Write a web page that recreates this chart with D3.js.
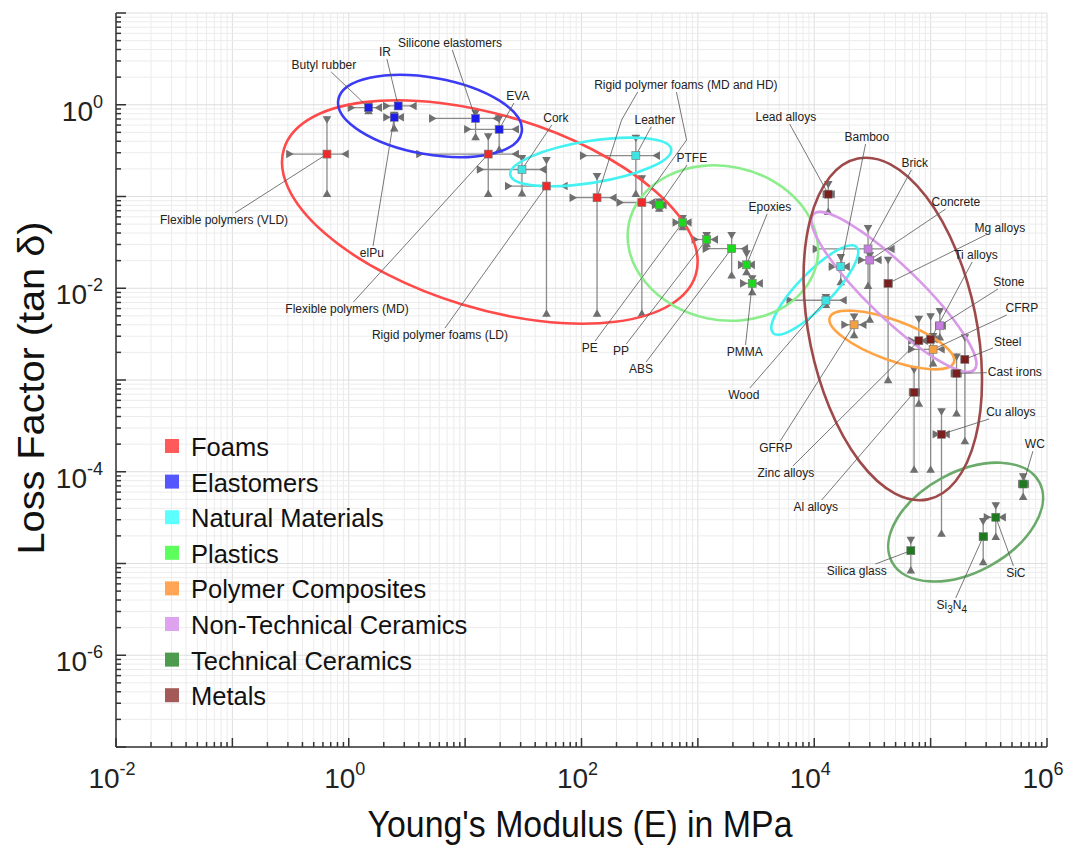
<!DOCTYPE html>
<html>
<head>
<meta charset="utf-8">
<script src="https://cdn.jsdelivr.net/npm/d3@7"></script>
<style>
  body { margin: 0; background: #fff; }
  text { font-family: "Liberation Sans", Arial, sans-serif; }
</style>
</head>
<body>
<svg id="chart" width="1080" height="852"></svg>
<script>
'use strict'

// material groups (legend order)
const groups = ['Foams', 'Elastomers', 'Natural Materials', 'Plastics', 'Polymer Composites',
  'Non-Technical Ceramics', 'Technical Ceramics', 'Metals']

// one entry per material: group index, Young's modulus (MPa) and loss factor, with ranges
const materialNames = ['Flexible polymers (VLD)', 'Flexible polymers (MD)', 'Rigid polymer foams (LD)',
  'Rigid polymer foams (MD)', 'Rigid polymer foams (HD)',
  'Butyl rubber', 'IR', 'elPu', 'Silicone elastomers', 'EVA',
  'Cork', 'Leather', 'Bamboo', 'Wood',
  'PTFE', 'PE', 'PP', 'ABS', 'Epoxies', 'PMMA',
  'GFRP', 'CFRP',
  'Brick', 'Concrete', 'Stone',
  'WC', 'SiC', 'Si3N4', 'Silica glass',
  'Lead alloys', 'Mg alloys', 'Zinc alloys', 'Ti alloys', 'Al alloys', 'Steel', 'Cast irons', 'Cu alloys']
const materialGroup = [0, 0, 0, 0, 0, 1, 1, 1, 1, 1, 2, 2, 2, 2, 3, 3, 3, 3, 3, 3, 4, 4, 5, 5, 5,
  6, 6, 6, 6, 7, 7, 7, 7, 7, 7, 7, 7]
const modulus = [0.65, 15.8, 50, 136, 330, 1.48, 2.66, 2.46, 12.3, 19.6, 30.8, 293, 16900, 12600,
  466, 739, 1190, 1950, 2620, 2930, 22000, 105000, 29000, 30000, 120000,
  624000, 363000, 283000, 67600, 13200, 43100, 79200, 100000, 72100, 197000, 167000, 124000]
const modulusLow = [0.29, 3.8, 22, 79, 200, 0.98, 1.97, 1.98, 4.9, 9.8, 12.6, 97, 13300, 5780,
  403, 606, 883, 1100, 2210, 2300, 17100, 64000, 9700, 23700, 109000,
  565000, 286000, 260000, 62500, 11800, 39600, 64100, 94600, 65000, 181000, 149000, 104000]
const modulusHigh = [1.0, 29, 76, 200, 430, 1.93, 3.83, 2.98, 19.9, 29, 50, 472, 20200, 19000,
  538, 883, 1490, 2700, 3090, 3620, 28100, 132000, 49000, 37900, 135000,
  698000, 443000, 310000, 73100, 15000, 47100, 94600, 115000, 80800, 213000, 185000, 146000]
const lossFactor = [0.29, 0.29, 0.13, 0.097, 0.086, 0.93, 0.97, 0.73, 0.71, 0.54, 0.197, 0.279, 0.0172, 0.0074,
  0.081, 0.052, 0.034, 0.027, 0.018, 0.0113, 0.004, 0.00216, 0.0268, 0.0203, 0.0039,
  0.0000735, 0.0000319, 0.0000196, 0.0000138, 0.106, 0.0113, 0.00268, 0.00278, 0.000734, 0.00168, 0.00118, 0.000256]
const lossLow = [0.099, 0.099, 0.0049, 0.0049, 0.0049, 0.79, 0.88, 0.51, 0.41, 0.30, 0.10, 0.099, 0.0108, 0.0061,
  0.068, 0.043, 0.028, 0.0128, 0.0139, 0.0084, 0.00285, 0.0014, 0.0098, 0.0042, 0.0027,
  0.0000492, 0.000018, 0.0000096, 0.0000078, 0.063, 0.00092, 0.00051, 0.0000977, 0.0000977, 0.0002, 0.0004, 0.0000196]
const lossHigh = [0.75, 0.49, 0.27, 0.18, 0.17, 1.07, 1.08, 0.84, 0.88, 0.77, 0.283, 0.47, 0.0236, 0.00865,
  0.095, 0.063, 0.041, 0.041, 0.026, 0.0139, 0.0053, 0.00325, 0.049, 0.0248, 0.0061,
  0.0000962, 0.0000465, 0.0000313, 0.0000196, 0.148, 0.0221, 0.005, 0.00533, 0.0014, 0.00315, 0.00195, 0.000492]

// group envelopes: centre (data units), semi-axes in decades, rotation on screen (deg)
const ellipseGroup = [0, 1, 2, 2, 3, 4, 5, 6, 7]
const ellipseE = [16.3, 4.99, 120, 10100, 1640, 46400, 48300, 200000, 47300]
const ellipseLoss = [0.0678, 0.754, 0.238, 0.00957, 0.0311, 0.00273, 0.0091, 0.0000283, 0.0036]
const ellipseMajor = [1.85, 0.80, 0.70, 0.515, 0.825, 0.567, 0.962, 0.72, 1.495]
const ellipseMinor = [0.83, 0.33, 0.18, 0.146, 0.66, 0.172, 0.223, 0.43, 0.72]
const ellipseAngle = [17, 10, -9, -46, 12, 20, 44, -28.5, 78.4]

// annotations: text, where it sits (data units), which materials it points at
const labelText = ['Flexible polymers (VLD)', 'Flexible polymers (MD)', 'Rigid polymer foams (LD)',
  'Rigid polymer foams (MD and HD)', 'Butyl rubber', 'IR', 'elPu', 'Silicone elastomers', 'EVA',
  'Cork', 'Leather', 'Bamboo', 'Wood', 'PTFE', 'PE', 'PP', 'ABS', 'Epoxies', 'PMMA', 'GFRP', 'CFRP',
  'Brick', 'Concrete', 'Stone', 'WC', 'SiC', 'Si3N4', 'Silica glass', 'Lead alloys', 'Mg alloys',
  'Zinc alloys', 'Ti alloys', 'Al alloys', 'Steel', 'Cast irons', 'Cu alloys']
const labelE = [0.0848, 0.966, 6.08, 789, 0.612, 2.05, 1.58, 7.4, 28.4, 60.3, 427, 28300, 2480, 888,
  118, 218, 324, 4160, 2530, 4680, 608000, 73100, 165000, 470000, 786000, 540000, 152000, 23200,
  5700, 393000, 5700, 245000, 10300, 460000, 529000, 489000]
const labelLoss = [0.0555, 0.00594, 0.00309, 1.64, 2.71, 3.76, 0.0242, 4.71, 1.245, 0.717, 0.682, 0.445,
  0.000687, 0.263, 0.00223, 0.00207, 0.00132, 0.0769, 0.00202, 0.000182, 0.0061, 0.232, 0.0871, 0.0117,
  0.0002, 0.00000787, 0.00000353, 0.00000828, 0.735, 0.0454, 0.0000968, 0.023, 0.0000413, 0.0026,
  0.00122, 0.000448]
const labelTargets = [[0], [1], [2], [3, 4], [5], [6], [7], [8], [9], [10], [11], [12], [13], [14],
  [15], [16], [17], [18], [19], [20], [21], [22], [23], [24], [25], [26], [27], [28], [29], [30],
  [31], [32], [33], [34], [35], [36]]
// bend points of the two leaders of 'Rigid polymer foams (MD and HD)'
const bendE = [221, 800]
const bendLoss = [0.682, 0.413]

const markerColor = ['#f02a2a', '#1c1cee', '#3ee4e4', '#1ed81e', '#f5a040', '#c57ee0', '#1f7a1f', '#7a1e1e']
const ellipseColor = ['#ff4a4a', '#3b3bf5', '#44f2f2', '#8ced8c', '#ffa445', '#d89ae8', '#6aaa6a', '#9e4a4a']
const legendColor = ['#ff5a5a', '#5656ff', '#5cffff', '#5cff5c', '#ffa555', '#dea3ee', '#4e9a4e', '#a55a5a']

const margin = { top: 13, right: 33, bottom: 105, left: 116 }
const width = 1080
const height = 852

const svg = d3.select('#chart')
const x = d3.scaleLog().domain([1e-2, 1e6]).range([margin.left, width - margin.right])
const y = d3.scaleLog().domain([1e-7, 1e1]).range([height - margin.bottom, margin.top])
const decadePx = x(10) - x(1)
const isMajor = v => Math.abs(Math.log10(v) - Math.round(Math.log10(v))) < 1e-9

// grid
const grid = svg.append('g')
grid.selectAll('.gx').data(x.ticks()).join('line')
  .attr('x1', d => x(d)).attr('x2', d => x(d))
  .attr('y1', y.range()[0]).attr('y2', y.range()[1])
  .attr('stroke', d => isMajor(d) ? '#dedede' : '#ececec').attr('stroke-width', 1)
grid.selectAll('.gy').data(y.ticks()).join('line')
  .attr('y1', d => y(d)).attr('y2', d => y(d))
  .attr('x1', x.range()[0]).attr('x2', x.range()[1])
  .attr('stroke', d => isMajor(d) ? '#dedede' : '#ececec').attr('stroke-width', 1)

// axes
const axes = svg.append('g').attr('stroke', '#333').attr('stroke-width', 1.5)
axes.append('line').attr('x1', x.range()[0]).attr('x2', x.range()[1])
  .attr('y1', y.range()[0]).attr('y2', y.range()[0])
axes.append('line').attr('x1', x.range()[0]).attr('x2', x.range()[0])
  .attr('y1', y.range()[0]).attr('y2', y.range()[1])
axes.selectAll('.tx').data(x.ticks()).join('line')
  .attr('x1', d => x(d)).attr('x2', d => x(d))
  .attr('y1', y.range()[0]).attr('y2', d => y.range()[0] - (isMajor(d) ? 9 : 5))
axes.selectAll('.ty').data(y.ticks()).join('line')
  .attr('y1', d => y(d)).attr('y2', d => y(d))
  .attr('x1', x.range()[0]).attr('x2', d => x.range()[0] + (isMajor(d) ? 10 : 5))

const xLabels = svg.append('g').selectAll('text').data([-2, 0, 2, 4, 6]).join('text')
  .attr('x', d => x(Math.pow(10, d)) - 4).attr('y', y.range()[0] + 41)
  .attr('text-anchor', 'middle').attr('fill', '#222')
xLabels.append('tspan').attr('font-size', 28).text('10')
xLabels.append('tspan').attr('font-size', 18).attr('dy', -13).text(d => d)

const yLabels = svg.append('g').selectAll('text').data([-6, -4, -2, 0]).join('text')
  .attr('x', x.range()[0] - 13).attr('y', d => y(Math.pow(10, d)) + 16)
  .attr('text-anchor', 'end').attr('fill', '#222')
yLabels.append('tspan').attr('font-size', 28).text('10')
yLabels.append('tspan').attr('font-size', 18).attr('dy', -13).text(d => d)

svg.append('text').attr('x', 580).attr('y', 837).attr('text-anchor', 'middle')
  .attr('font-size', 36).attr('fill', '#111')
  .attr('textLength', 425).attr('lengthAdjust', 'spacingAndGlyphs')
  .text("Young's Modulus (E) in MPa")
svg.append('text').attr('transform', 'translate(44,388) rotate(-90)').attr('text-anchor', 'middle')
  .attr('font-size', 36).attr('fill', '#111')
  .attr('textLength', 333).attr('lengthAdjust', 'spacingAndGlyphs')
  .text('Loss Factor (tan δ)')

// range bars with inward-pointing triangles
const idx = d3.range(materialNames.length)
const bars = svg.append('g')
bars.selectAll('.h').data(idx).join('line')
  .attr('x1', i => x(modulusLow[i])).attr('x2', i => x(modulusHigh[i]))
  .attr('y1', i => y(lossFactor[i])).attr('y2', i => y(lossFactor[i]))
  .attr('stroke', '#8a8a8a').attr('stroke-width', 1.3)
bars.selectAll('.v').data(idx).join('line')
  .attr('x1', i => x(modulus[i])).attr('x2', i => x(modulus[i]))
  .attr('y1', i => y(lossLow[i])).attr('y2', i => y(lossHigh[i]))
  .attr('stroke', '#8a8a8a').attr('stroke-width', 1.3)

const tl = 7.5, tw = 4.3
const tri = []
idx.forEach(i => {
  const px = x(modulus[i]), py = y(lossFactor[i])
  const l = x(modulusLow[i]), r = x(modulusHigh[i]), t = y(lossHigh[i]), b = y(lossLow[i])
  tri.push([[l, py - tw], [l, py + tw], [l + tl, py]])
  tri.push([[r, py - tw], [r, py + tw], [r - tl, py]])
  tri.push([[px - tw, t], [px + tw, t], [px, t + tl]])
  tri.push([[px - tw, b], [px + tw, b], [px, b - tl]])
})
bars.selectAll('path').data(tri).join('path')
  .attr('d', d => 'M' + d.join('L') + 'Z').attr('fill', '#6f6f6f')

// group envelopes
svg.append('g').selectAll('ellipse').data(d3.range(ellipseGroup.length)).join('ellipse')
  .attr('cx', i => x(ellipseE[i])).attr('cy', i => y(ellipseLoss[i]))
  .attr('rx', i => ellipseMajor[i] * decadePx).attr('ry', i => ellipseMinor[i] * decadePx)
  .attr('transform', i => `rotate(${ellipseAngle[i]},${x(ellipseE[i])},${y(ellipseLoss[i])})`)
  .attr('fill', 'none').attr('stroke', i => ellipseColor[ellipseGroup[i]]).attr('stroke-width', 2.6)

// labels and leaders
const labelG = svg.append('g')
const leaderG = labelG.append('g')
const texts = labelG.selectAll('text').data(d3.range(labelText.length)).join('text')
  .attr('x', i => x(labelE[i])).attr('y', i => y(labelLoss[i]))
  .attr('text-anchor', 'middle').attr('dominant-baseline', 'central')
  .attr('font-size', 12).attr('fill', '#222')
texts.each(function (i) {
  const t = d3.select(this)
  if (labelText[i] === 'Si3N4') {
    t.append('tspan').text('Si')
    t.append('tspan').attr('font-size', 10).attr('dy', 4).text('3')
    t.append('tspan').attr('dy', -4).text('N')
    t.append('tspan').attr('font-size', 10).attr('dy', 4).text('4')
  } else {
    t.text(labelText[i])
  }
})

texts.each(function (i) {
  const bb = this.getBBox()
  const cx = bb.x + bb.width / 2, cy = bb.y + bb.height / 2
  const hw = bb.width / 2 + 1, hh = bb.height / 2
  labelTargets[i].forEach((m, k) => {
    const pts = []
    let start
    if (labelTargets[i].length > 1) {
      // bent leaders leave from the bottom edge of the label
      const bx = x(bendE[k]), by = y(bendLoss[k])
      pts.push([bx, by])
      start = [bx + (cx - bx) * 0.25 - (k ? 10 : 0), bb.y + bb.height]
    }
    pts.push([x(modulus[m]), y(lossFactor[m])])
    if (!start) {
      const dx = pts[0][0] - cx, dy = pts[0][1] - cy
      const s = Math.min(dx ? hw / Math.abs(dx) : Infinity, dy ? hh / Math.abs(dy) : Infinity)
      start = [cx + dx * s, cy + dy * s]
    }
    leaderG.append('path')
      .attr('d', d3.line()([start, ...pts]))
      .attr('fill', 'none').attr('stroke', '#555').attr('stroke-width', 0.8)
  })
})

// markers
svg.append('g').selectAll('rect').data(idx).join('rect')
  .attr('x', i => x(modulus[i]) - 4).attr('y', i => y(lossFactor[i]) - 4)
  .attr('width', 8).attr('height', 8)
  .attr('fill', i => markerColor[materialGroup[i]])
  .attr('stroke', '#777').attr('stroke-width', 0.6)

// legend
const legend = svg.append('g').selectAll('g').data(groups).join('g')
  .attr('transform', (d, i) => `translate(165,${446 + i * 35.6})`)
legend.append('rect').attr('x', 0).attr('y', -7).attr('width', 14).attr('height', 14)
  .attr('fill', (d, i) => legendColor[i])
legend.append('text').attr('x', 26).attr('y', 1).attr('dominant-baseline', 'central')
  .attr('font-size', 25.5).attr('fill', '#111').text(d => d)
</script>
</body>
</html>
